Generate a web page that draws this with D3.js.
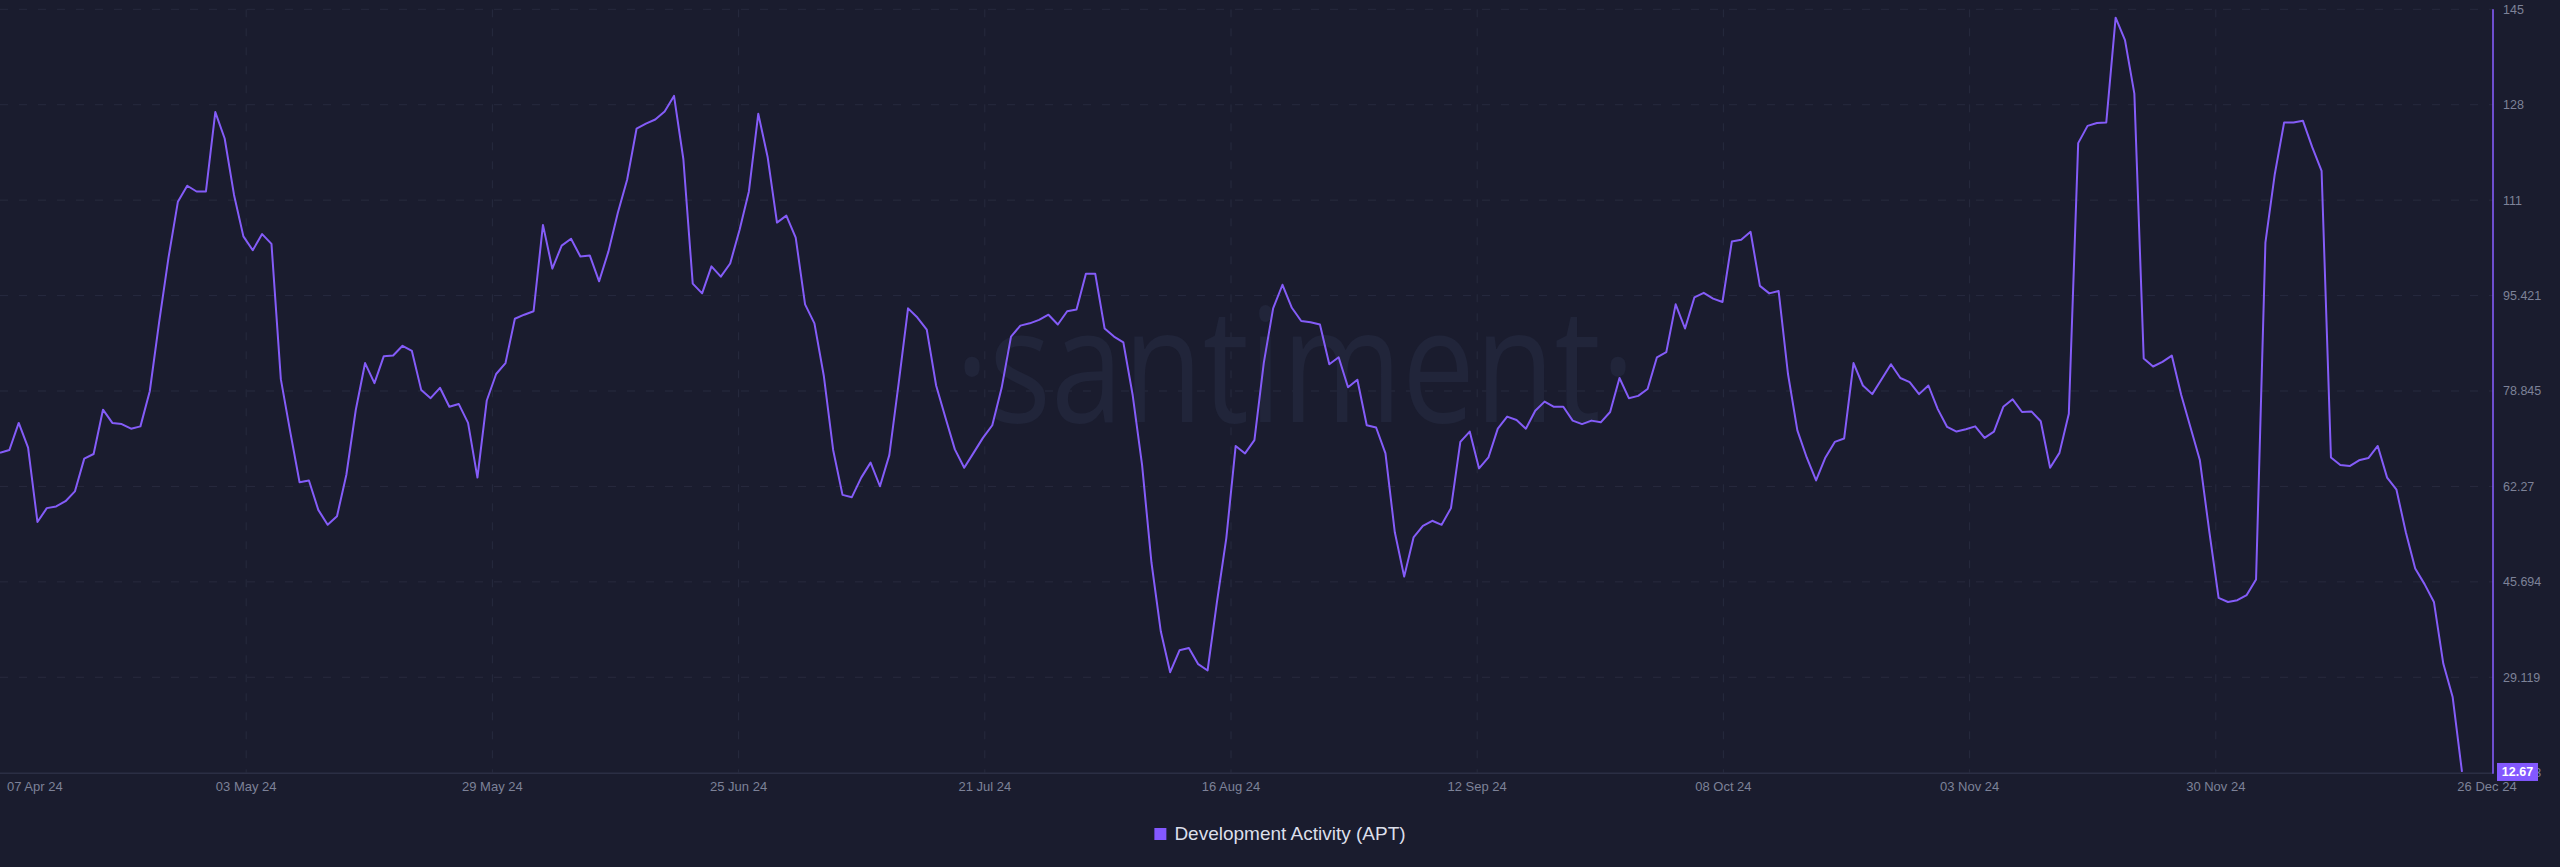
<!DOCTYPE html>
<html>
<head>
<meta charset="utf-8">
<script src="https://cdn.jsdelivr.net/npm/d3@7"></script>
<style>
  body { margin: 0; background: #1a1c2e; }
  svg { display: block; }
  text { font-family: "Liberation Sans", Arial, sans-serif; }
</style>
</head>
<body>
<svg></svg>
<script>
/* ----------------------------------------------------------
data
---------------------------------------------------------- */

var seriesName = "Development Activity (APT)";
var startDay = Date.UTC(2024, 3, 7);   // 07 Apr 24
var endDay = Date.UTC(2024, 11, 26);   // 26 Dec 24

// one value per day, 07 Apr -> 26 Dec
var devActivity = [
  68.1, 68.6, 73.3, 69.0, 56.1, 58.5, 58.8, 59.7, 61.4, 67.1,
  67.9, 75.6, 73.3, 73.1, 72.3, 72.7, 78.8, 90.8, 102.0, 111.7,
  114.5, 113.5, 113.5, 127.3, 122.7, 112.9, 105.7, 103.3, 106.1, 104.4,
  80.9, 71.8, 63.0, 63.3, 58.2, 55.6, 57.1, 64.3, 75.5, 83.7,
  80.2, 84.9, 85.0, 86.7, 85.8, 79.0, 77.6, 79.4, 76.1, 76.6,
  73.3, 63.8, 77.2, 81.8, 83.7, 91.4, 92.1, 92.7, 107.7, 100.1,
  104.1, 105.3, 102.2, 102.4, 97.9, 103.1, 109.8, 115.6, 124.4, 125.3,
  126.0, 127.4, 130.1, 119.1, 97.5, 95.8, 100.5, 98.7, 101.0, 106.8,
  113.5, 127.0, 119.5, 108.1, 109.3, 105.5, 93.9, 90.6, 81.5, 68.6,
  60.8, 60.4, 63.8, 66.4, 62.3, 67.7, 80.2, 93.2, 91.6, 89.5,
  79.8, 74.2, 68.7, 65.5, 68.1, 70.7, 72.9, 79.4, 88.3, 90.2,
  90.6, 91.2, 92.1, 90.4, 92.7, 93.0, 99.2, 99.2, 89.7, 88.3,
  87.3, 78.1, 66.0, 49.1, 37.1, 30.0, 33.8, 34.2, 31.4, 30.3,
  42.2, 53.3, 69.3, 68.0, 70.3, 83.7, 93.2, 97.3, 93.3, 91.0,
  90.8, 90.4, 83.5, 84.7, 79.5, 80.8, 72.9, 72.5, 68.0, 54.3,
  46.6, 53.4, 55.4, 56.3, 55.6, 58.5, 70.0, 71.8, 65.4, 67.3,
  72.3, 74.4, 73.8, 72.3, 75.4, 77.0, 76.1, 76.1, 73.7, 73.1,
  73.7, 73.4, 75.2, 81.1, 77.6, 78.0, 79.2, 84.7, 85.6, 93.9,
  89.7, 95.1, 95.9, 94.9, 94.3, 104.8, 105.1, 106.5, 97.1, 95.8,
  96.2, 81.8, 72.0, 67.3, 63.3, 67.3, 70.0, 70.6, 83.7, 79.8,
  78.3, 80.9, 83.5, 81.1, 80.4, 78.3, 79.8, 75.7, 72.6, 71.8,
  72.2, 72.7, 70.7, 71.8, 76.1, 77.4, 75.2, 75.3, 73.6, 65.5,
  68.1, 74.9, 121.9, 124.9, 125.4, 125.5, 143.7, 139.8, 130.5, 84.5,
  83.1, 83.9, 85.0, 78.2, 72.5, 66.8, 54.5, 42.9, 42.2, 42.5,
  43.4, 46.1, 104.6, 116.5, 125.5, 125.5, 125.8, 121.2, 117.1, 67.3,
  66.0, 65.8, 66.8, 67.2, 69.3, 63.8, 61.7, 54.3, 48.0, 45.3,
  42.2, 31.5, 25.7, 12.67
];

var yTickValues = [12.543, 29.119, 45.694, 62.27, 78.845, 95.421, 111.996, 128.572, 145.147];
var yTickLabels = ["12.543", "29.119", "45.694", "62.27", "78.845", "95.421", "111", "128", "145"];

var xTickLabels = ["07 Apr 24", "03 May 24", "29 May 24", "25 Jun 24", "21 Jul 24", "16 Aug 24",
  "12 Sep 24", "08 Oct 24", "03 Nov 24", "30 Nov 24", "26 Dec 24"];

/* ----------------------------------------------------------
setting
---------------------------------------------------------- */

var width = 2560;
var height = 867;
var lineRight = 2462;   // where the data ends
var axisX = 2493;       // purple value axis
var plotTop = 9.3;
var plotBottom = 772.7;

var col = {
  bg: "#1a1c2e",
  grid: "#272a3e",
  axis: "#2b2e44",
  line: "#845cf8",
  label: "#7d8298",
  legend: "#dcdfea",
  mark: "#21253a"
};

/* ----------------------------------------------------------
prepare
---------------------------------------------------------- */

var svg = d3.select("svg").attr("width", width).attr("height", height);
svg.append("rect").attr("width", width).attr("height", height).attr("fill", col.bg);

var points = devActivity.map(function(v, i) {
  return { date: new Date(startDay + i * 864e5), value: v };
});

var x = d3.scaleUtc().domain([new Date(startDay), new Date(endDay)]).range([0, lineRight]);
var y = d3.scaleLinear().domain([yTickValues[0], yTickValues[yTickValues.length - 1]]).range([plotBottom, plotTop]);

// ticks evenly split the time range
var xTicks = xTickLabels.map(function(lab, i) {
  return { label: lab, date: new Date(startDay + i * (endDay - startDay) / (xTickLabels.length - 1)) };
});

//grid
var gGrid = svg.append("g");
gGrid.selectAll(".hgrid")
  .data(yTickValues.slice(1)).enter().append("line")
  .attr("x1", 0).attr("x2", axisX)
  .attr("y1", d => y(d)).attr("y2", d => y(d))
  .attr("stroke", col.grid).attr("stroke-width", 1)
  .attr("stroke-dasharray", "8,11");

gGrid.selectAll(".vgrid")
  .data(xTicks.slice(1, -1)).enter().append("line")
  .attr("x1", d => x(d.date)).attr("x2", d => x(d.date))
  .attr("y1", plotTop).attr("y2", plotBottom)
  .attr("stroke", col.grid).attr("stroke-width", 1)
  .attr("stroke-dasharray", "8,11");

//watermark
svg.append("text")
  .attr("x", 955).attr("y", 422)
  .attr("textLength", 680).attr("lengthAdjust", "spacingAndGlyphs")
  .style("font-family", "'Open Sans', 'Noto Sans', sans-serif")
  .style("font-size", "160px")
  .attr("fill", col.mark)
  .text("·santiment·");

//x axis line
svg.append("line")
  .attr("x1", 0).attr("x2", axisX)
  .attr("y1", plotBottom + 0.5).attr("y2", plotBottom + 0.5)
  .attr("stroke", col.axis).attr("stroke-width", 1.5);

/* ----------------------------------------------------------
line
---------------------------------------------------------- */

var line = d3.line()
  .x(d => x(d.date))
  .y(d => y(d.value));

svg.append("path")
  .datum(points)
  .attr("d", line)
  .attr("fill", "none")
  .attr("stroke", col.line)
  .attr("stroke-width", 2)
  .attr("stroke-linejoin", "round");

//value axis
svg.append("line")
  .attr("x1", axisX).attr("x2", axisX)
  .attr("y1", plotTop).attr("y2", plotBottom + 1)
  .attr("stroke", col.line).attr("stroke-width", 1.6);

svg.selectAll(".ylab")
  .data(yTickValues).enter().append("text")
  .attr("x", axisX + 10)
  .attr("y", d => y(d)).attr("dy", "0.35em")
  .attr("fill", col.label)
  .style("font-size", "12.5px")
  .text((d, i) => yTickLabels[i]);

svg.selectAll(".xlab")
  .data(xTicks).enter().append("text")
  .attr("x", (d, i) => i == 0 ? 7 : x(d.date) + (i == xTicks.length - 1 ? 25 : 0))
  .attr("y", 791)
  .attr("text-anchor", (d, i) => i == 0 ? "start" : "middle")
  .attr("fill", col.label)
  .style("font-size", "13px")
  .text(d => d.label);

//last value
var last = points[points.length - 1];
var gLast = svg.append("g").attr("transform", "translate(" + (axisX + 4) + "," + y(last.value) + ")");
gLast.append("rect")
  .attr("x", 0).attr("y", -9)
  .attr("width", 41).attr("height", 18)
  .attr("fill", "#8358ff");
gLast.append("text")
  .attr("x", 20.5).attr("dy", "0.36em")
  .attr("text-anchor", "middle")
  .attr("fill", "#ffffff")
  .style("font-size", "12.5px").style("font-weight", "bold")
  .text(d3.format(".2f")(last.value));

/* ----------------------------------------------------------
legend
---------------------------------------------------------- */

var gLeg = svg.append("g").attr("transform", "translate(" + (width / 2) + ",840)");
var legText = gLeg.append("text")
  .attr("x", 0).attr("y", 0)
  .attr("fill", col.legend)
  .style("font-size", "19px")
  .text(seriesName);
var tw = legText.node().getComputedTextLength();
var legW = 12 + 8 + tw;
legText.attr("x", -legW / 2 + 20);
gLeg.append("rect")
  .attr("x", -legW / 2).attr("y", -12)
  .attr("width", 12).attr("height", 12)
  .attr("fill", "#8358ff");
</script>
</body>
</html>
